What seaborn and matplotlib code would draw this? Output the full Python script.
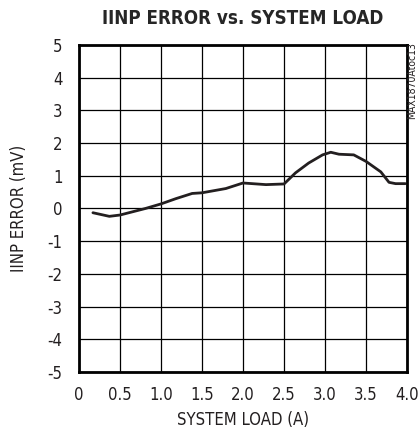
import pandas as pd
import seaborn as sns
import matplotlib.pyplot as plt

# values
load_a = [0.17, 0.37, 0.5, 0.81, 1.0, 1.18, 1.38, 1.5, 1.79, 2.0, 2.28, 2.5,
          2.64, 2.8, 2.97, 3.07, 3.17, 3.35, 3.5, 3.68, 3.78, 3.86, 3.98]
error_mv = [-0.13, -0.24, -0.2, 0.0, 0.14, 0.3, 0.46, 0.48, 0.61, 0.78, 0.73, 0.75,
            1.09, 1.39, 1.64, 1.72, 1.66, 1.64, 1.44, 1.12, 0.8, 0.76, 0.76]
x_ticks = [0, 0.5, 1.0, 1.5, 2.0, 2.5, 3.0, 3.5, 4.0]
x_labels = ['0', '0.5', '1.0', '1.5', '2.0', '2.5', '3.0', '3.5', '4.0']
y_ticks = list(range(-5, 6))

df = pd.DataFrame({'load': load_a, 'err': error_mv})

sns.set_style('white')
plt.rcParams['font.family'] = ['Liberation Sans Narrow', 'DejaVu Sans']
plt.rcParams['font.stretch'] = 'condensed'
plt.rcParams['axes.unicode_minus'] = False

fig = plt.figure(figsize=(4.19, 4.33), dpi=100)
ax = fig.add_axes([0.1885, 0.141, 0.783, 0.755])
sns.lineplot(data=df, x='load', y='err', ax=ax, color='#231f20', linewidth=2.0)

ax.set_xlim(0, 4.0)
ax.set_ylim(-5, 5)
ax.set_xticks(x_ticks)
ax.set_xticklabels(x_labels)
ax.set_yticks(y_ticks)
ax.grid(True, color='black', linewidth=0.9)
for s in ax.spines.values():
    s.set_linewidth(2)
    s.set_color('black')
ax.tick_params(axis='both', length=0, labelsize=12, colors='#231f20')
ax.tick_params(axis='y', pad=12)
ax.tick_params(axis='x', pad=10)

ax.set_xlabel('SYSTEM LOAD (A)', fontsize=12, labelpad=5, color='#231f20')
ax.set_ylabel('IINP ERROR (mV)', fontsize=12, labelpad=14, color='#231f20')
ax.set_title('IINP ERROR vs. SYSTEM LOAD', fontsize=13.5, fontweight='bold', pad=15)
fig.text(0.983, 0.902, 'MAX1870Atoc13', rotation=90, fontsize=7.5,
         ha='center', va='top', color='#231f20')

plt.savefig('out.png', dpi=100)
